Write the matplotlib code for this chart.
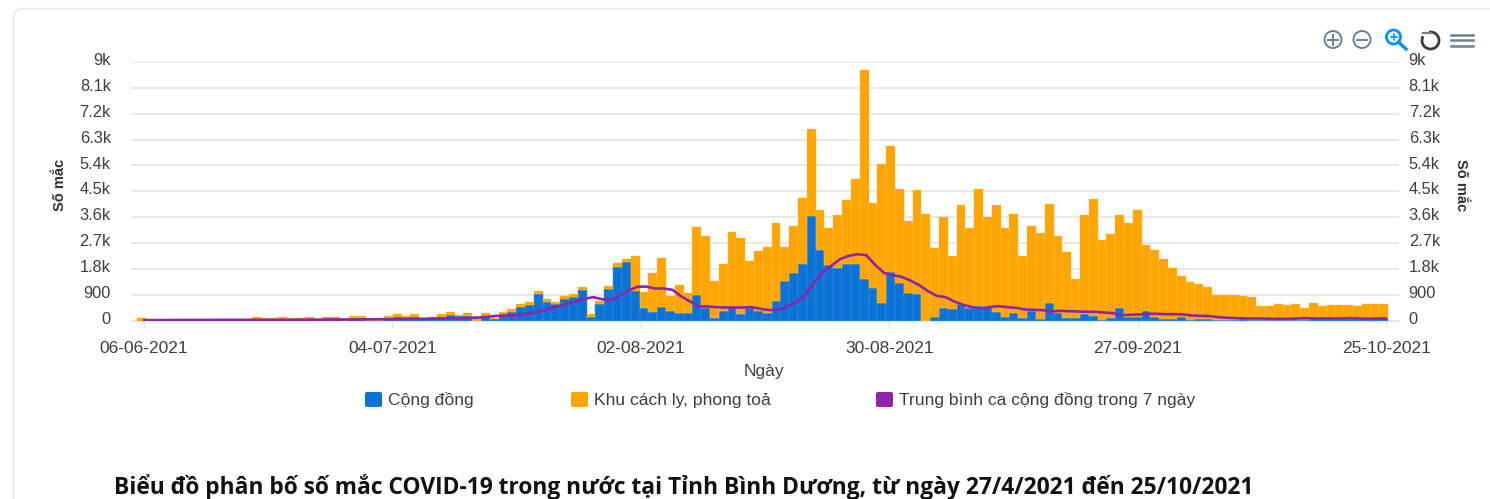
#!/usr/bin/env python3
"""Daily COVID-19 cases in Binh Duong: stacked bars plus 7-day community average."""

import matplotlib
matplotlib.use("Agg")
import matplotlib.pyplot as plt
import numpy as np
from matplotlib.patches import Arc, Circle, FancyBboxPatch
from matplotlib.transforms import ScaledTranslation

# ---- Data ----
community = [
    0, 5, 5, 5, 8, 5, 10, 10, 15, 15,
    15, 20, 20, 58, 46, 35, 58, 46, 46, 46,
    0, 46, 46, 0, 81, 70, 0, 0, 104, 128,
    104, 128, 46, 104, 139, 197, 162, 174, 0, 174,
    46, 197, 313, 464, 545, 928, 638, 568, 742, 835,
    1056, 139, 580, 1102, 1879, 2030, 1044, 452, 302, 464,
    348, 255, 278, 893, 429, 93, 348, 487, 220, 452,
    325, 255, 673, 1380, 1670, 1984, 3654, 2471, 1926, 1833,
    1960, 1960, 1462, 1137, 626, 1705, 1299, 974, 916, 0,
    116, 429, 394, 580, 452, 522, 464, 313, 116, 255,
    104, 325, 58, 626, 255, 81, 70, 209, 174, 23,
    70, 429, 139, 139, 348, 139, 46, 35, 128, 12,
    35, 58, 23, 23, 12, 46, 23, 12, 23, 23,
    23, 23, 23, 35, 35, 35, 35, 35, 46, 46,
    46, 81,
]
quarantine = [
    70, 5, 5, 10, 5, 5, 5, 10, 10, 10,
    10, 10, 15, 58, 35, 35, 58, 46, 58, 70,
    35, 70, 70, 20, 81, 93, 35, 35, 58, 93,
    58, 93, 35, 35, 70, 104, 35, 81, 116, 81,
    58, 93, 93, 104, 93, 116, 116, 93, 116, 104,
    116, 104, 104, 116, 116, 104, 1195, 557, 1369, 1728,
    522, 974, 673, 2378, 2517, 1299, 1612, 2610, 2656, 1635,
    2111, 2320, 2714, 1183, 1636, 2285, 3016, 1369, 1311, 1856,
    2227, 2970, 7273, 2970, 4826, 4385, 3271, 2506, 3631, 3724,
    2424, 3167, 1845, 3445, 2772, 4048, 3155, 3712, 3120, 3457,
    2134, 2958, 2993, 3445, 2679, 2308, 1392, 3457, 4048, 2796,
    2958, 3260, 3248, 3701, 2285, 2308, 2111, 1809, 1438, 1334,
    1241, 1114, 882, 870, 870, 824, 812, 487, 476, 545,
    522, 568, 429, 557, 464, 522, 510, 499, 476, 522,
    534, 487,
]
avg_7day = [
    12, 14, 15, 15, 17, 17, 20, 20, 23, 23,
    23, 23, 23, 23, 23, 23, 23, 23, 29, 29,
    29, 35, 35, 35, 35, 41, 41, 46, 46, 58,
    58, 58, 58, 70, 70, 81, 81, 93, 104, 128,
    162, 174, 174, 209, 255, 313, 418, 487, 580, 661,
    754, 812, 742, 708, 858, 1044, 1172, 1183, 1114, 1114,
    1067, 835, 661, 487, 487, 464, 452, 452, 452, 464,
    406, 360, 371, 487, 638, 858, 1299, 1670, 1902, 2134,
    2250, 2308, 2274, 1937, 1659, 1578, 1520, 1392, 1230, 1021,
    858, 812, 661, 545, 464, 418, 464, 499, 464, 441,
    383, 371, 360, 313, 336, 325, 313, 302, 302, 278,
    255, 186, 197, 209, 232, 232, 220, 220, 209, 174,
    162, 151, 116, 93, 81, 70, 70, 70, 58, 58,
    58, 70, 81, 70, 70, 70, 70, 81, 70, 58,
    70, 70,
]
x_tick_labels = ["06-06-2021", "04-07-2021", "02-08-2021",
                 "30-08-2021", "27-09-2021", "25-10-2021"]
y_tick_labels = ["0", "900", "1.8k", "2.7k", "3.6k", "4.5k",
                 "5.4k", "6.3k", "7.2k", "8.1k", "9k"]
legend_labels = ["Cộng đồng", "Khu cách ly, phong toả",
                 "Trung bình ca cộng đồng trong 7 ngày"]

# ---- Style ----
BLUE = "#0B72D6"
ORANGE = "#FFA500"
PURPLE = "#8E24AA"
TEXT = "#3A4045"
GRID = "#E6E6E6"
W, H = 1490, 499

plt.rcParams["font.family"] = ["Liberation Sans", "DejaVu Sans"]

fig = plt.figure(figsize=(W / 100, H / 100), dpi=100, facecolor="white")

# Overlay in pixel coordinates for the card, toolbar, legend and captions
bg = fig.add_axes([0, 0, 1, 1], zorder=0)
bg.set_xlim(0, W)
bg.set_ylim(H, 0)
bg.axis("off")

bg.add_patch(FancyBboxPatch((13.5, 8.5), 1600, 600,
                            boxstyle="round,pad=0,rounding_size=9",
                            fc="white", ec="#E6E6EE", lw=1.1))

# ---- Chart ----
left, right, top, bottom = 131, 1399, 62, 320.5
ax = fig.add_axes([left / W, (H - bottom) / H, (right - left) / W, (bottom - top) / H],
                  zorder=1)
ax.patch.set_alpha(0)

x = np.arange(len(avg_7day))
bar_x = x - 0.25
ax.bar(bar_x, community, width=1.0, color=BLUE, edgecolor="#3D8FE2", lw=0.35, zorder=2)
ax.bar(bar_x, quarantine, bottom=community, width=1.0, color=ORANGE,
       edgecolor="#FFC04D", lw=0.35, zorder=2)
ax.plot(x, avg_7day, color=PURPLE, lw=1.9, solid_capstyle="round", zorder=3)

ax.set_xlim((left - 144) / 8.809, (right - 144) / 8.809)
ax.set_ylim(0, 9000)
y_ticks = np.arange(0, 9001, 900)
ax.set_yticks(y_ticks)
ax.set_yticklabels(y_tick_labels)
ax.yaxis.grid(True, color=GRID, lw=1.3, zorder=0)
ax.set_axisbelow(True)
ax.set_xticks(np.linspace(0, 141, 6))
ax.set_xticklabels(x_tick_labels)
ax.tick_params(axis="x", length=5, width=1, color="#E4E4E4", labelsize=12.5,
               labelcolor=TEXT, pad=10)
ax.tick_params(axis="y", length=0, labelsize=11.8, labelcolor=TEXT, pad=14.5)
for side in ("top", "left", "right"):
    ax.spines[side].set_visible(False)
ax.spines["bottom"].set_color("#DDE6F2")

ax_r = ax.twinx()
ax_r.set_ylim(0, 9000)
ax_r.set_yticks(y_ticks)
ax_r.set_yticklabels(y_tick_labels)
ax_r.tick_params(axis="y", length=0, labelsize=11.8, labelcolor=TEXT, pad=7)
for spine in ax_r.spines.values():
    spine.set_visible(False)

# Tick labels sit a little above their grid lines
lift = ScaledTranslation(0, 2 / 72, fig.dpi_scale_trans)
for lab in ax.get_yticklabels() + ax_r.get_yticklabels():
    lab.set_transform(lab.get_transform() + lift)

# ---- Captions ----
bg.text(60, 185, "Số mắc", rotation=90, ha="center", va="center",
        fontsize=10.5, fontweight="bold", color="#333333")
bg.text(1461, 185, "Số mắc", rotation=-90, ha="center", va="center",
        fontsize=10.5, fontweight="bold", color="#333333")
bg.text(764, 376, "Ngày", ha="center", va="baseline", fontsize=12.5, color=TEXT)

legend_marks = [(365, BLUE), (571, ORANGE), (876, PURPLE)]
for (mx, col), label in zip(legend_marks, legend_labels):
    bg.add_patch(FancyBboxPatch((mx, 392), 17, 15,
                                boxstyle="round,pad=0,rounding_size=2", fc=col, ec="none"))
    bg.text(mx + 23, 405, label, ha="left", va="baseline", fontsize=12.6, color=TEXT)

bg.text(114, 493.5, "Biểu đồ phân bố số mắc COVID-19 trong nước tại Tỉnh Bình Dương, "
        "từ ngày 27/4/2021 đến 25/10/2021",
        ha="left", va="baseline", fontsize=16.4, fontweight="bold",
        family=["Open Sans", "DejaVu Sans"], color="#111111")

# ---- Toolbar icons ----
ICON = "#6E8192"
for cx in (1333, 1362):
    bg.add_patch(Circle((cx, 39.5), 8.5, fc="none", ec=ICON, lw=1.4))
    bg.plot([cx - 5, cx + 5], [39.5, 39.5], color=ICON, lw=1.4)
bg.plot([1333, 1333], [34.5, 44.5], color=ICON, lw=1.4)

bg.add_patch(Circle((1393.5, 37), 7, fc="none", ec="#008FFB", lw=2))
bg.plot([1398.5, 1406], [42, 49], color="#008FFB", lw=2.4)
bg.plot([1390.5, 1396.5], [37, 37], color="#008FFB", lw=1.2)
bg.plot([1393.5, 1393.5], [34, 40], color="#008FFB", lw=1.2)

bg.add_patch(Arc((1430.5, 40.5), 17, 17, theta1=-100, theta2=210, ec="#3C3C3C", lw=2))
bg.plot([1423, 1431], [33, 33], color="#6E8192", lw=1.6)

for hy in (34.5, 40, 45.5):
    bg.plot([1451, 1473], [hy, hy], color=ICON, lw=1.8)

fig.savefig("out.png", dpi=100, facecolor="white")
